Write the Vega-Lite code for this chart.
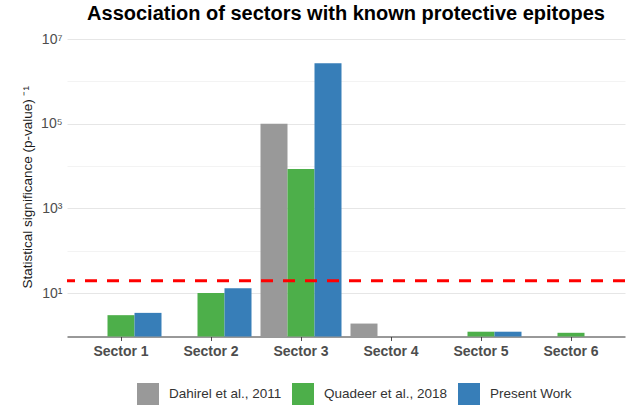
{
  "$schema": "https://vega.github.io/schema/vega-lite/v6.json",
  "width": 558,
  "height": 299.5,
  "autosize": {"type": "none"},
  "padding": {"left": 67, "top": 37, "right": 1, "bottom": 71.5},
  "title": {
    "text": "Association of sectors with known protective epitopes",
    "fontSize": 20,
    "fontWeight": "bold",
    "color": "#000000",
    "anchor": "middle",
    "baseline": "alphabetic",
    "offset": 14,
    "dy": 22
  },
  "config": {
    "font": "Liberation Sans",
    "view": {"stroke": null}
  },
  "layer": [
    {
      "data": {
        "values": [
          {"sector": "Sector 1", "study": "Quadeer et al., 2018", "value": 3.0},
          {"sector": "Sector 1", "study": "Present Work", "value": 3.4},
          {"sector": "Sector 2", "study": "Quadeer et al., 2018", "value": 10},
          {"sector": "Sector 2", "study": "Present Work", "value": 13},
          {"sector": "Sector 3", "study": "Dahirel et al., 2011", "value": 100000},
          {"sector": "Sector 3", "study": "Quadeer et al., 2018", "value": 8500},
          {"sector": "Sector 3", "study": "Present Work", "value": 2700000},
          {"sector": "Sector 4", "study": "Dahirel et al., 2011", "value": 1.9},
          {"sector": "Sector 5", "study": "Quadeer et al., 2018", "value": 1.22},
          {"sector": "Sector 5", "study": "Present Work", "value": 1.22},
          {"sector": "Sector 6", "study": "Quadeer et al., 2018", "value": 1.15}
        ]
      },
      "mark": {"type": "bar"},
      "encoding": {
        "x": {
          "field": "sector",
          "type": "nominal",
          "sort": ["Sector 1", "Sector 2", "Sector 3", "Sector 4", "Sector 5", "Sector 6"],
          "scale": {"paddingInner": 0.1, "paddingOuter": 0.15},
          "axis": {
            "title": null,
            "labelAngle": 0,
            "labelFontSize": 14,
            "labelFontWeight": "bold",
            "labelColor": "#4d4d4d",
            "labelPadding": 4,
            "domainColor": "#333333",
            "domainWidth": 1,
            "tickColor": "#4d4d4d",
            "tickSize": 4,
            "grid": false
          }
        },
        "xOffset": {
          "field": "study",
          "type": "nominal",
          "scale": {"domain": ["Dahirel et al., 2011", "Quadeer et al., 2018", "Present Work"], "paddingInner": 0, "paddingOuter": 0}
        },
        "y": {
          "field": "value",
          "type": "quantitative",
          "stack": null,
          "scale": {"type": "log", "domain": [0.94, 11200000], "nice": false},
          "axis": {
            "title": "Statistical significance (p-value) ⁻¹",
            "titleFontSize": 13.5,
            "titleFontWeight": "normal",
            "titleColor": "#1a1a1a",
            "titlePadding": 6,
            "values": [10, 100, 1000, 10000, 100000, 1000000, 10000000],
            "labelExpr": "datum.value == 10 ? '10¹' : datum.value == 1000 ? '10³' : datum.value == 100000 ? '10⁵' : datum.value == 10000000 ? '10⁷' : ''",
            "labelFontSize": 14,
            "labelColor": "#4d4d4d",
            "labelPadding": 5,
            "ticks": false,
            "domain": false,
            "grid": true,
            "gridColor": {"condition": {"test": "datum.value == 10 || datum.value == 1000 || datum.value == 100000 || datum.value == 10000000", "value": "#e6e6e6"}, "value": "#f3f3f3"},
            "gridWidth": 1
          }
        },
        "y2": {"datum": 0.94},
        "color": {
          "field": "study",
          "type": "nominal",
          "scale": {
            "domain": ["Dahirel et al., 2011", "Quadeer et al., 2018", "Present Work"],
            "range": ["#999999", "#4daf4a", "#377eb8"]
          },
          "legend": {
            "title": null,
            "orient": "none",
            "legendX": 70,
            "legendY": 346,
            "direction": "horizontal",
            "symbolType": "square",
            "symbolSize": 484,
            "symbolStrokeWidth": 0,
            "labelFontSize": 13.5,
            "labelColor": "#333333",
            "labelOffset": 10,
            "columnPadding": 10
          }
        }
      }
    },
    {
      "data": {"values": [{"threshold": 19.5}]},
      "mark": {"type": "rule", "color": "#ff0000", "strokeWidth": 3, "strokeDash": [12, 10]},
      "encoding": {
        "y": {"field": "threshold", "type": "quantitative"}
      }
    }
  ]
}
